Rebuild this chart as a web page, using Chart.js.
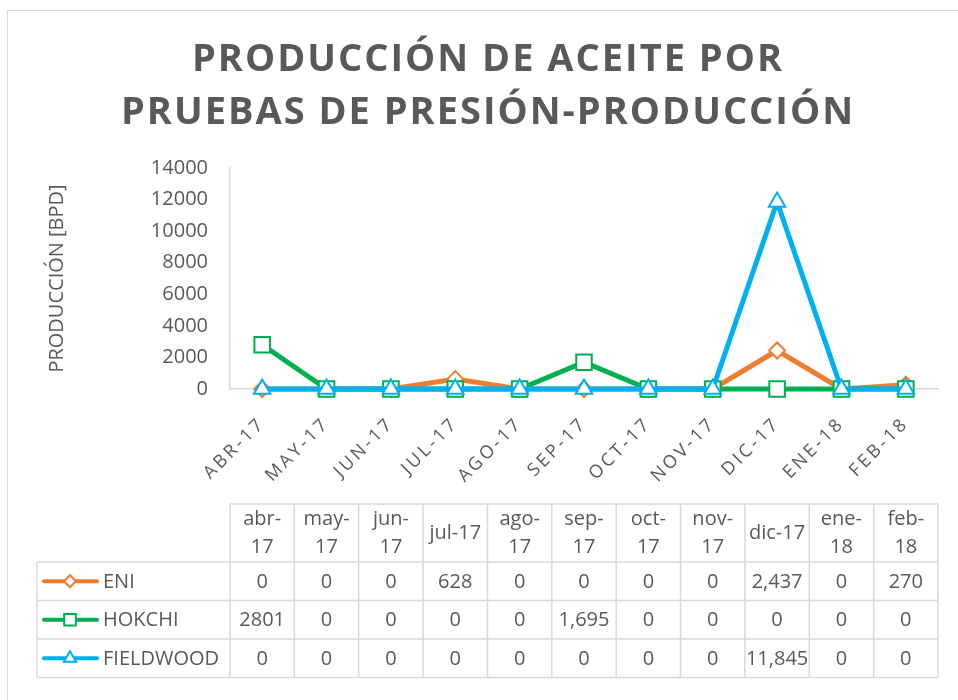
<!DOCTYPE html>
<html>
<head>
<meta charset="utf-8">
<script src="https://cdn.jsdelivr.net/npm/chart.js@4.4.1/dist/chart.umd.min.js"></script>
<style>
  body { margin: 0; background: #fff; }
  canvas { display: block; }
</style>
</head>
<body>
<canvas id="grafica" width="958" height="700"></canvas>
<script>
const meses = ['abr-17', 'may-17', 'jun-17', 'jul-17', 'ago-17', 'sep-17', 'oct-17', 'nov-17', 'dic-17', 'ene-18', 'feb-18'];
const encabezados = ['abr-\n17', 'may-\n17', 'jun-\n17', 'jul-17', 'ago-\n17', 'sep-\n17', 'oct-\n17', 'nov-\n17', 'dic-17', 'ene-\n18', 'feb-\n18'];
const eni = [0, 0, 0, 628, 0, 0, 0, 0, 2437, 0, 270];
const hokchi = [2801, 0, 0, 0, 0, 1695, 0, 0, 0, 0, 0];
const fieldwood = [0, 0, 0, 0, 0, 0, 0, 0, 11845, 0, 0];
const ticksY = [0, 2000, 4000, 6000, 8000, 10000, 12000, 14000];
// celdas que en la tabla original no llevan separador de miles
const sinSeparador = [[1, 0]];

const GRIS = '#595959';
const BORDE = '#d9d9d9';
const FUENTE = '"Open Sans", "Liberation Sans", sans-serif';

function formatearValor(serie, i, v) {
    const plano = sinSeparador.some(c => c[0] === serie && c[1] === i);
    return plano ? String(v) : v.toLocaleString('en-US');
}

const tituloPlugin = {
    id: 'titulo',
    afterLayout(chart) {
        // etiquetas del eje X con espaciado entre letras, como en Excel
        const sx = chart.scales.x;
        if (sx && !sx._espaciado) {
            const original = sx.drawLabels;
            sx.drawLabels = function (area) {
                this.ctx.save();
                this.ctx.letterSpacing = '3px';
                original.call(this, area);
                this.ctx.restore();
            };
            sx._espaciado = true;
        }
    },
    beforeDraw(chart) {
        const ctx = chart.ctx;
        ctx.save();
        ctx.fillStyle = '#fff';
        ctx.fillRect(0, 0, chart.width, chart.height);
        ctx.strokeStyle = BORDE;
        ctx.lineWidth = 1;
        ctx.strokeRect(7.5, 10.5, chart.width, chart.height);
        ctx.fillStyle = GRIS;
        ctx.font = 'bold 38px ' + FUENTE;
        ctx.letterSpacing = '2px';
        ctx.textAlign = 'center';
        ctx.textBaseline = 'alphabetic';
        ctx.fillText('PRODUCCIÓN DE ACEITE POR', 488, 71);
        ctx.fillText('PRUEBAS DE PRESIÓN-PRODUCCIÓN', 488, 124);
        ctx.restore();
    }
};

const tablaPlugin = {
    id: 'tabla',
    afterDraw(chart) {
        const ctx = chart.ctx;
        const x = chart.scales.x;
        const paso = x.getPixelForValue(1) - x.getPixelForValue(0);
        const izq = x.left, der = x.right;
        const inicioLeyenda = 37;
        const filas = [504, 562, 600.5, 639, 677.5];

        ctx.save();
        ctx.strokeStyle = BORDE;
        ctx.lineWidth = 1.5;
        ctx.beginPath();
        ctx.moveTo(izq, filas[0]); ctx.lineTo(der, filas[0]);
        for (let r = 1; r < filas.length; r++) {
            ctx.moveTo(inicioLeyenda, filas[r]); ctx.lineTo(der, filas[r]);
        }
        for (let i = 0; i <= meses.length; i++) {
            const xi = izq + i * paso;
            ctx.moveTo(xi, filas[0]); ctx.lineTo(xi, filas[4]);
        }
        ctx.moveTo(inicioLeyenda, filas[1]); ctx.lineTo(inicioLeyenda, filas[4]);
        ctx.stroke();

        ctx.fillStyle = GRIS;
        ctx.font = '20px ' + FUENTE;
        ctx.textAlign = 'center';
        ctx.textBaseline = 'middle';
        encabezados.forEach((txt, i) => {
            const cx = x.getPixelForValue(i);
            const lineas = txt.split('\n');
            if (lineas.length === 1) {
                ctx.fillText(lineas[0], cx, (filas[0] + filas[1]) / 2);
            } else {
                ctx.fillText(lineas[0], cx, filas[0] + 15);
                ctx.fillText(lineas[1], cx, filas[0] + 43);
            }
        });

        chart.data.datasets.forEach((ds, s) => {
            const cy = (filas[s + 1] + filas[s + 2]) / 2;
            ds.data.forEach((v, i) => {
                ctx.fillStyle = GRIS;
                ctx.textAlign = 'center';
                ctx.fillText(formatearValor(s, i, v), x.getPixelForValue(i), cy + 1);
            });
            ctx.strokeStyle = ds.borderColor;
            ctx.lineWidth = 4;
            ctx.lineCap = 'round';
            ctx.beginPath();
            ctx.moveTo(44, cy); ctx.lineTo(97, cy);
            ctx.stroke();
            ctx.fillStyle = '#fff';
            ctx.lineWidth = 2;
            Chart.helpers.drawPoint(ctx, { pointStyle: ds.pointStyle, radius: ds.pointRadius * 0.75, rotation: 0, borderWidth: 2 }, 70, cy);
            ctx.fillStyle = GRIS;
            ctx.textAlign = 'left';
            ctx.fillText(ds.label, 103, cy + 1);
        });
        ctx.restore();
    }
};

function serie(nombre, datos, color, forma, radio, orden) {
    return {
        label: nombre,
        data: datos,
        borderColor: color,
        backgroundColor: '#fff',
        borderWidth: 5,
        pointStyle: forma,
        pointRadius: radio,
        pointHoverRadius: radio,
        pointBorderWidth: 2,
        pointBackgroundColor: '#fff',
        pointBorderColor: color,
        tension: 0,
        clip: false,
        order: orden
    };
}

new Chart(document.getElementById('grafica'), {
    type: 'line',
    data: {
        labels: meses,
        datasets: [
            serie('ENI', eni, '#ED7D31', 'rectRot', 8, 3),
            serie('HOKCHI', hokchi, '#00B050', 'rect', 11, 2),
            serie('FIELDWOOD', fieldwood, '#00B0F0', 'triangle', 9.5, 1)
        ]
    },
    options: {
        responsive: false,
        animation: false,
        layout: { padding: { top: 168, right: 20, bottom: 0, left: 0 } },
        plugins: {
            legend: { display: false },
            title: { display: false },
            tooltip: { enabled: false }
        },
        scales: {
            x: {
                offset: true,
                grid: { display: false, drawTicks: false },
                border: { color: BORDE, width: 1.5 },
                ticks: {
                    color: GRIS,
                    font: { family: FUENTE, size: 18 },
                    maxRotation: 45,
                    minRotation: 45,
                    padding: 24,
                    callback: (v, i) => meses[i].toUpperCase()
                },
                afterFit: s => { s.height = 311; }
            },
            y: {
                min: 0,
                max: 14000,
                grid: { display: false, drawTicks: false },
                border: { color: BORDE, width: 1.5 },
                afterBuildTicks: s => { s.ticks = ticksY.map(v => ({ value: v })); },
                ticks: {
                    color: GRIS,
                    font: { family: FUENTE, size: 20 },
                    padding: 22,
                    callback: v => String(v)
                },
                title: {
                    display: true,
                    text: 'PRODUCCIÓN [BPD]',
                    color: GRIS,
                    font: { family: FUENTE, size: 20 },
                    padding: { top: 45, bottom: 0 }
                },
                afterFit: s => { s.width = 230; }
            }
        }
    },
    plugins: [tituloPlugin, tablaPlugin]
});
</script>
</body>
</html>
